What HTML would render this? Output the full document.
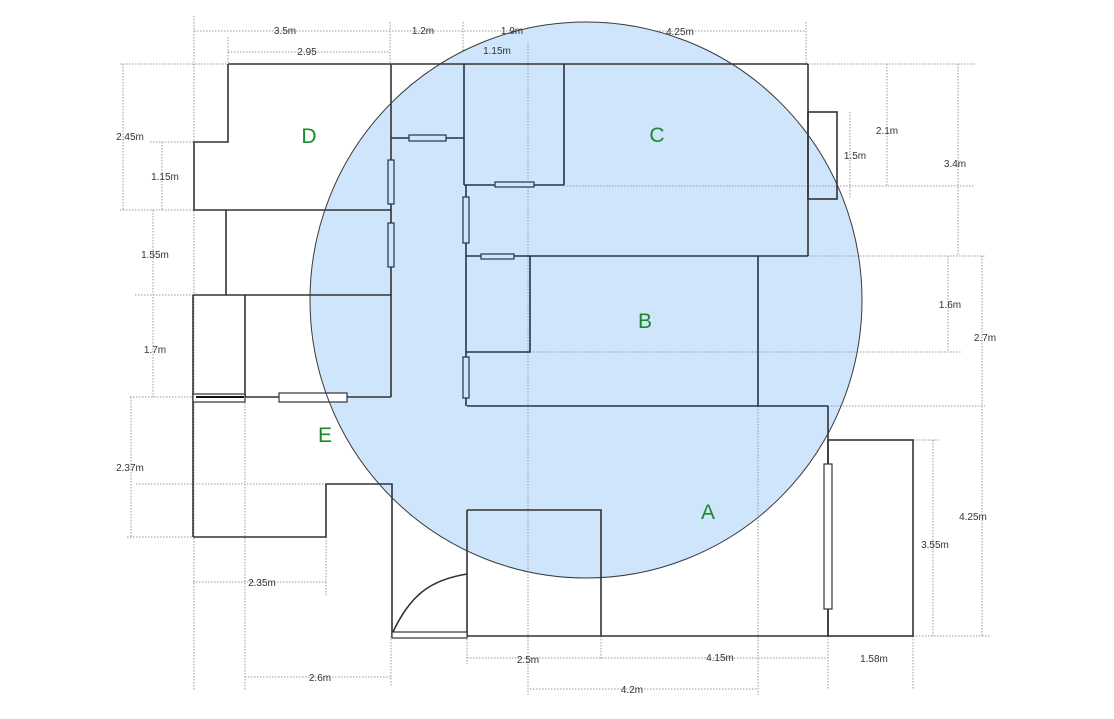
<!DOCTYPE html>
<html><head><meta charset="utf-8"><style>
html,body{margin:0;padding:0;background:#fff;}
svg{display:block;font-family:"Liberation Sans",sans-serif;}
.d{stroke:#9a9a9a;stroke-width:1;stroke-dasharray:1.5 1.5;fill:none}
.w{stroke:#333;stroke-width:1.6;fill:none}
.wi{stroke:#23334a;stroke-width:1.6;fill:none}
.win{stroke:#333;stroke-width:1.2;fill:#fff}
.winb{stroke:#23334a;stroke-width:1.2;fill:#cfe5fb}
.t{font-size:10px;fill:#333;text-anchor:middle}
.L{font-size:21px;fill:#1a8a2a;text-anchor:middle}
</style></head><body>
<svg width="1114" height="719" viewBox="0 0 1114 719">
<g class="d">
<line x1="194" y1="31" x2="806" y2="31"/>
<line x1="194" y1="16" x2="194" y2="690"/>
<line x1="390" y1="22" x2="390" y2="64"/>
<line x1="463" y1="22" x2="463" y2="64"/>
<line x1="806" y1="22" x2="806" y2="64"/>
<line x1="228" y1="52" x2="390" y2="52"/>
<line x1="228" y1="37" x2="228" y2="64"/>
<line x1="463" y1="50" x2="528" y2="50"/>
<line x1="120" y1="64" x2="228" y2="64"/>
<line x1="123" y1="64" x2="123" y2="210"/>
<line x1="162" y1="142" x2="162" y2="210"/>
<line x1="150" y1="142" x2="194" y2="142"/>
<line x1="120" y1="210" x2="194" y2="210"/>
<line x1="153" y1="210" x2="153" y2="397"/>
<line x1="135" y1="295" x2="193" y2="295"/>
<line x1="130" y1="397" x2="193" y2="397"/>
<line x1="131" y1="397" x2="131" y2="537"/>
<line x1="136" y1="484" x2="326" y2="484"/>
<line x1="127" y1="537" x2="193" y2="537"/>
<line x1="193" y1="582" x2="326" y2="582"/>
<line x1="245" y1="397" x2="245" y2="690"/>
<line x1="326" y1="537" x2="326" y2="595"/>
<line x1="245" y1="677" x2="391" y2="677"/>
<line x1="391" y1="636" x2="391" y2="686"/>
<line x1="467" y1="658" x2="828" y2="658"/>
<line x1="467" y1="636" x2="467" y2="664"/>
<line x1="601" y1="636" x2="601" y2="660"/>
<line x1="530" y1="689" x2="758" y2="689"/>
<line x1="828" y1="636" x2="828" y2="690"/>
<line x1="913" y1="636" x2="913" y2="690"/>
<line x1="808" y1="64" x2="975" y2="64"/>
<line x1="887" y1="64" x2="887" y2="186"/>
<line x1="850" y1="112" x2="850" y2="199"/>
<line x1="958" y1="64" x2="958" y2="256"/>
<line x1="948" y1="256" x2="948" y2="352"/>
<line x1="982" y1="256" x2="982" y2="636"/>
<line x1="913" y1="440" x2="940" y2="440"/>
<line x1="933" y1="440" x2="933" y2="636"/>
<line x1="913" y1="636" x2="990" y2="636"/>
</g>
<ellipse cx="586" cy="300" rx="276" ry="278" fill="#cfe5fb"/>
<g class="d">
<line x1="528" y1="43" x2="528" y2="695"/>
<line x1="758" y1="256" x2="758" y2="695"/>
<line x1="564" y1="186" x2="975" y2="186"/>
<line x1="758" y1="256" x2="985" y2="256"/>
<line x1="530" y1="352" x2="962" y2="352"/>
<line x1="828" y1="406" x2="985" y2="406"/>
</g>
<g class="w">
<line x1="228" y1="64" x2="808" y2="64"/>
<polyline points="228,64 228,142 194,142 194,210 391,210"/>
<line x1="391" y1="64" x2="391" y2="397"/>
<line x1="226" y1="210" x2="226" y2="295"/>
<line x1="193" y1="295" x2="391" y2="295"/>
<line x1="193" y1="295" x2="193" y2="537"/>
<line x1="245" y1="295" x2="245" y2="397"/>
<line x1="193" y1="397" x2="391" y2="397"/>
<polyline points="193,537 326,537 326,484 392,484 392,636"/>
<line x1="392" y1="636" x2="828" y2="636"/>
<line x1="467" y1="510" x2="467" y2="636"/>
<polyline points="467,510 601,510 601,636"/>
<line x1="828" y1="406" x2="828" y2="636"/>
<rect x="828" y="440" width="85" height="196"/>
<line x1="808" y1="64" x2="808" y2="256"/>
<rect x="808" y="112" width="29" height="87"/>
<path d="M392,634 C410,595 430,580 467,574"/>
</g>
<g class="wi">
<line x1="464" y1="64" x2="464" y2="185"/>
<line x1="466" y1="185" x2="466" y2="406"/>
<line x1="467" y1="406" x2="828" y2="406"/>
<line x1="564" y1="64" x2="564" y2="185"/>
<line x1="464" y1="185" x2="564" y2="185"/>
<line x1="466" y1="256" x2="808" y2="256"/>
<line x1="758" y1="256" x2="758" y2="406"/>
<polyline points="530,256 530,352 466,352"/>
<line x1="391" y1="138" x2="464" y2="138"/>
</g>
<g class="winb">
<rect x="409" y="135" width="37" height="6"/>
<rect x="388" y="160" width="6" height="44"/>
<rect x="388" y="223" width="6" height="44"/>
<rect x="463" y="197" width="6" height="46"/>
<rect x="495" y="182" width="39" height="5"/>
<rect x="481" y="254" width="33" height="5"/>
<rect x="463" y="357" width="6" height="41"/>
</g>
<g class="win">
<rect x="193" y="394" width="52" height="8"/>
<rect x="279" y="393" width="68" height="9"/>
<rect x="824" y="464" width="8" height="145"/>
<rect x="392" y="632" width="75" height="6"/>
</g>
<line x1="196" y1="397" x2="244" y2="397" stroke="#111" stroke-width="2"/>
<ellipse cx="586" cy="300" rx="276" ry="278" fill="none" stroke="#3a3a3a" stroke-width="1"/>
<g class="t">
<text x="285" y="34">3.5m</text>
<text x="423" y="34">1.2m</text>
<text x="512" y="34">1.9m</text>
<text x="680" y="35">4.25m</text>
<text x="307" y="55">2.95</text>
<text x="497" y="54">1.15m</text>
<text x="130" y="140">2.45m</text>
<text x="165" y="180">1.15m</text>
<text x="155" y="258">1.55m</text>
<text x="155" y="353">1.7m</text>
<text x="130" y="471">2.37m</text>
<text x="262" y="586">2.35m</text>
<text x="320" y="681">2.6m</text>
<text x="528" y="663">2.5m</text>
<text x="720" y="661">4.15m</text>
<text x="632" y="693">4.2m</text>
<text x="874" y="662">1.58m</text>
<text x="887" y="134">2.1m</text>
<text x="855" y="159">1.5m</text>
<text x="955" y="167">3.4m</text>
<text x="950" y="308">1.6m</text>
<text x="985" y="341">2.7m</text>
<text x="973" y="520">4.25m</text>
<text x="935" y="548">3.55m</text>
</g>
<g class="L">
<text x="309" y="143">D</text>
<text x="657" y="142">C</text>
<text x="645" y="328">B</text>
<text x="325" y="442">E</text>
<text x="708" y="519">A</text>
</g>
</svg>
</body></html>
